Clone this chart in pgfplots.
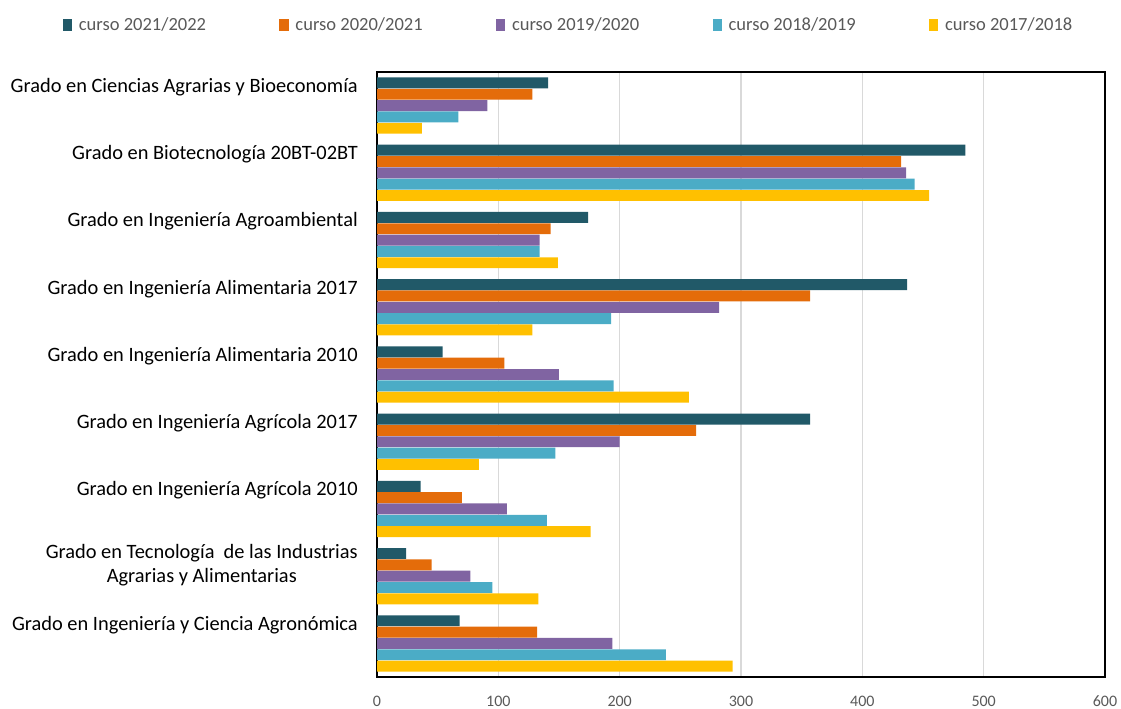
\documentclass[border=0pt]{standalone}
\usepackage{pgfplots}
\pgfplotsset{compat=1.18}
\usepackage{fontspec}
\setmainfont{Carlito}
\definecolor{cA}{HTML}{215968}
\definecolor{cB}{HTML}{E46C0A}
\definecolor{cC}{HTML}{8064A2}
\definecolor{cD}{HTML}{4BACC6}
\definecolor{cE}{HTML}{FFC000}
\definecolor{txtgray}{HTML}{595959}
\definecolor{gridgray}{HTML}{D9D9D9}
\begin{document}
\begin{tikzpicture}[x=0.75pt,y=-0.75pt]
\path[use as bounding box] (0,0) rectangle (1121,709);
\begin{axis}[
  at={(282.75pt,-54pt)}, anchor=north west,
  width=546pt, height=453.75pt, scale only axis,
  xbar=0.3pt, bar width=8.2pt,
  xmin=0, xmax=600, xtick={0,100,...,600},
  ymin=-0.5, ymax=8.5, y dir=reverse,
  ytick={0,...,8},
  yticklabels={Grado en Ciencias Agrarias y Bioeconomía,
    Grado en Biotecnología 20BT-02BT,
    Grado en Ingeniería Agroambiental,
    Grado en Ingeniería Alimentaria 2017,
    Grado en Ingeniería Alimentaria 2010,
    Grado en Ingeniería Agrícola 2017,
    Grado en Ingeniería Agrícola 2010,
    {Grado en Tecnología~ de las Industrias\\Agrarias y Alimentarias},
    Grado en Ingeniería y Ciencia Agronómica},
  yticklabel style={align=center, anchor=north east, inner sep=0pt,
    execute at begin node={\rule{0pt}{14pt}},
    yshift=24.1pt, xshift=-14.25pt, font={\fontsize{15.3}{18}\selectfont}, text=black},
  xticklabel style={font={\fontsize{12}{14}\selectfont}, text=txtgray, inner sep=0pt, yshift=-14pt},
  /pgf/number format/assume math mode=true,
  major tick length=0pt,
  tick style={draw=none},
  xmajorgrids, ymajorgrids=false,
  grid style={gridgray, line width=1.1pt},
  axis line style={black, line width=1.1pt},
  legend columns=5,
  reverse legend,
  legend style={at={(0.2637,1.0777)}, anchor=center, draw=none, fill=none,
    font={\fontsize{13.9}{16}\selectfont}, text=txtgray,
    /tikz/every even column/.append style={column sep=53pt}},
  legend image code/.code={\fill[#1] (-2pt,-4.5pt) rectangle (5pt,4.5pt); \path (8pt,0pt);},
  every axis plot/.append style={draw=none},
]
\addplot[fill=cE] coordinates {(37,0) (455,1) (149,2) (128,3) (257,4) (84,5) (176,6) (133,7) (293,8)};
\addplot[fill=cD] coordinates {(67,0) (443,1) (134,2) (193,3) (195,4) (147,5) (140,6) (95,7) (238,8)};
\addplot[fill=cC] coordinates {(91,0) (436,1) (134,2) (282,3) (150,4) (200,5) (107,6) (77,7) (194,8)};
\addplot[fill=cB] coordinates {(128,0) (432,1) (143,2) (357,3) (105,4) (263,5) (70,6) (45,7) (132,8)};
\addplot[fill=cA] coordinates {(141,0) (485,1) (174,2) (437,3) (54,4) (357,5) (36,6) (24,7) (68,8)};
\legend{curso 2017/2018, curso 2018/2019, curso 2019/2020, curso 2020/2021, curso 2021/2022}
\end{axis}
\end{tikzpicture}
\end{document}
